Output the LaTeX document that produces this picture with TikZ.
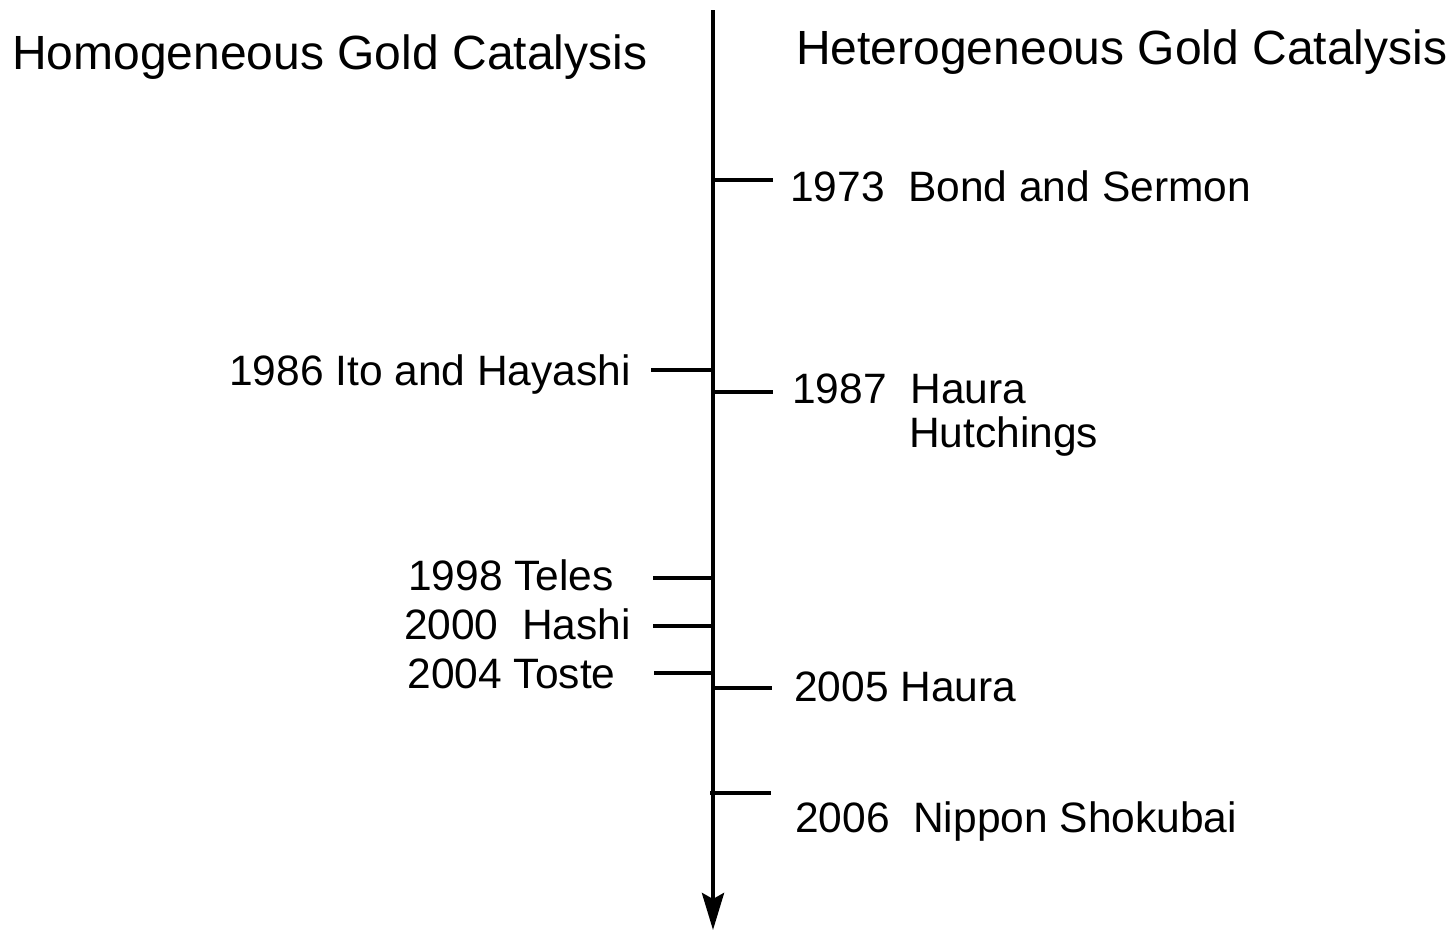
\documentclass[tikz,border=0pt]{standalone}
\usepackage{fontspec}
\setmainfont{Liberation Sans}
\usetikzlibrary{arrows.meta}
\begin{document}
\begin{tikzpicture}[x=1pt,y=-1pt,
  axisline/.style={line width=4.3pt},
  tickline/.style={line width=4.3pt},
  entry/.style={inner sep=0pt,font=\fontsize{42.5}{46}\selectfont},
  header/.style={inner sep=0pt,font=\fontsize{48}{54}\selectfont}]
\useasboundingbox (0,0) rectangle (1452,932);
% axis
\coordinate (top) at (713,10);
\coordinate (bottom) at (713,930);
\draw[axisline,-{Stealth[length=37pt,width=22pt,inset=6pt]}] (top) -- (bottom);
% headers
\node[header,anchor=base west] (homo) at (12,69) {Homogeneous Gold Catalysis};
\node[header,anchor=base west] (hetero) at (796,64) {Heterogeneous Gold Catalysis};
% ticks
\coordinate (a1973) at (713,180); \coordinate (b1973) at (773,180);
\coordinate (a1986) at (651,370); \coordinate (b1986) at (713,370);
\coordinate (a1987) at (713,392); \coordinate (b1987) at (773,392);
\coordinate (a1998) at (653,578); \coordinate (b1998) at (713,578);
\coordinate (a2000) at (653,626); \coordinate (b2000) at (713,626);
\coordinate (a2004) at (654,673); \coordinate (b2004) at (713,673);
\coordinate (a2005) at (713,688); \coordinate (b2005) at (772,688);
\coordinate (a2006) at (710,793); \coordinate (b2006) at (771,793);
\foreach \y in {1973,1986,1987,1998,2000,2004,2005,2006}
  \draw[tickline] (a\y) -- (b\y);
% right entries
\node[entry,anchor=base west] (t1973) at (790,201) {1973\ \ Bond and Sermon};
\node[entry,anchor=base west] (t1987) at (792,403) {1987\ \ Haura};
\node[entry,anchor=base west] (t1987b) at (909,447) {Hutchings};
\node[entry,anchor=base west] (t2005) at (794,701) {2005 Haura};
\node[entry,anchor=base west] (t2006) at (795,832) {2006\ \ Nippon Shokubai};
% left entries
\node[entry,anchor=base] (t1986) at (430,385) {1986 Ito and Hayashi};
\node[entry,anchor=base] (t1998) at (511,590) {1998 Teles};
\node[entry,anchor=base] (t2000) at (517.5,639) {2000\ \ Hashi};
\node[entry,anchor=base] (t2004) at (511.5,688) {2004 Toste};
\end{tikzpicture}
\end{document}
